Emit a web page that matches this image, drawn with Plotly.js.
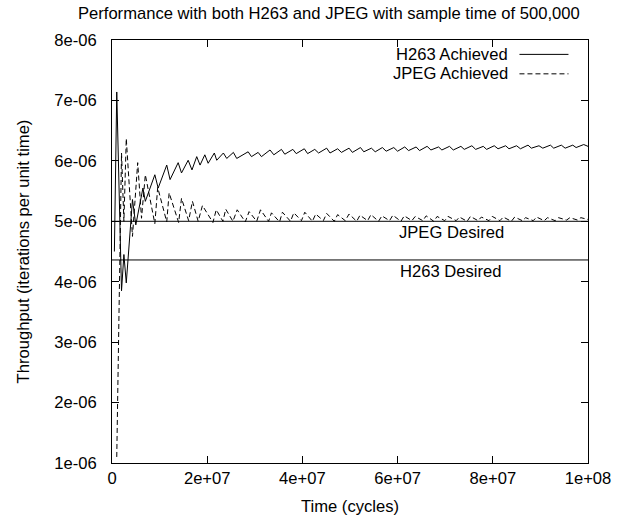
<!DOCTYPE html>
<html>
<head>
<meta charset="utf-8">
<script src="https://cdn.plot.ly/plotly-3.0.1.min.js"></script>
<style>html,body{margin:0;padding:0;background:#fff;}#chart{width:624px;height:517px;}</style>
</head>
<body>
<div id="chart"></div>
<script>
// ---- data ----
var h263X = [0.5e6, 1e6, 2e6, 2.5e6, 3e6, 3.8e6, 4.3e6, 5e6, 6.5e6, 7e6, 9e6, 9.7e6, 11.5e6, 12.2e6, 13.9e6, 14.6e6, 16e6, 16.8e6, 17.8e6, 18.5e6, 19.5e6, 20.2e6, 21.5e6, 22e6, 23.4e6, 24.1e6, 25.5e6, 26.2e6, 28.6e6, 29.3e6, 30.7e6, 31.4e6, 33.2e6, 34e6, 35.6e6, 36.3e6, 38e6, 38.7e6, 40.4e6, 41.1e6, 42.6e6, 43.4e6, 45.1e6, 45.8e6, 47.4e6, 48.2e6, 49.8e6, 50.5e6, 52.2e6, 52.9e6, 54.5e6, 55.3e6, 56.8e6, 57.6e6, 59.2e6, 60e6, 61.5e6, 62.3e6, 63.9e6, 64.6e6, 66.2e6, 67e6, 68.6e6, 69.3e6, 70.9e6, 71.7e6, 73.3e6, 74e6, 75.6e6, 76.4e6, 78e6, 78.7e6, 80.3e6, 81.1e6, 82.7e6, 83.4e6, 85e6, 85.8e6, 87.4e6, 88.1e6, 89.7e6, 90.5e6, 92.1e6, 92.8e6, 94.4e6, 95.2e6, 96.8e6, 97.5e6, 99.1e6, 100e6];
var h263Y = [4.5e-6, 7.14e-6, 3.85e-6, 4.45e-6, 3.98e-6, 4.85e-6, 5.36e-6, 4.94e-6, 5.55e-6, 5.33e-6, 5.77e-6, 5.55e-6, 5.93e-6, 5.69e-6, 5.97e-6, 5.80e-6, 6.01e-6, 5.85e-6, 6.07e-6, 5.93e-6, 6.10e-6, 5.96e-6, 6.13e-6, 6.01e-6, 6.13e-6, 6.04e-6, 6.14e-6, 6.04e-6, 6.15e-6, 6.07e-6, 6.14e-6, 6.07e-6, 6.18e-6, 6.10e-6, 6.19e-6, 6.11e-6, 6.19e-6, 6.12e-6, 6.20e-6, 6.12e-6, 6.19e-6, 6.13e-6, 6.21e-6, 6.13e-6, 6.20e-6, 6.14e-6, 6.21e-6, 6.14e-6, 6.22e-6, 6.15e-6, 6.21e-6, 6.15e-6, 6.22e-6, 6.16e-6, 6.22e-6, 6.16e-6, 6.23e-6, 6.17e-6, 6.23e-6, 6.17e-6, 6.24e-6, 6.18e-6, 6.23e-6, 6.18e-6, 6.24e-6, 6.18e-6, 6.24e-6, 6.19e-6, 6.25e-6, 6.19e-6, 6.24e-6, 6.19e-6, 6.25e-6, 6.20e-6, 6.25e-6, 6.20e-6, 6.25e-6, 6.20e-6, 6.26e-6, 6.21e-6, 6.25e-6, 6.21e-6, 6.26e-6, 6.21e-6, 6.26e-6, 6.21e-6, 6.26e-6, 6.22e-6, 6.27e-6, 6.24e-6];

var jpegX = [1e6, 2e6, 2.5e6, 3e6, 4.3e6, 5.4e6, 6.2e6, 7e6, 9e6, 9.6e6, 11.5e6, 12e6, 14e6, 14.6e6, 16.1e6, 16.9e6, 18.1e6, 19e6, 21.2e6, 21.9e6, 23.3e6, 23.9e6, 25.4e6, 26.3e6, 28e6, 28.8e6, 30.4e6, 31.2e6, 32.9e6, 33.5e6, 35.2e6, 35.8e6, 37.5e6, 38.2e6, 39.8e6, 40.5e6, 42.1e6, 42.8e6, 44.4e6, 45.1e6, 46.7e6, 47.4e6, 49e6, 49.8e6, 51.4e6, 52.1e6, 53.7e6, 54.4e6, 56e6, 56.7e6, 58.3e6, 59e6, 60.7e6, 61.4e6, 63e6, 63.7e6, 65.3e6, 66e6, 67.6e6, 68.3e6, 69.9e6, 70.6e6, 72.3e6, 73e6, 74.6e6, 75.3e6, 76.9e6, 77.6e6, 79.2e6, 79.9e6, 81.5e6, 82.2e6, 83.9e6, 84.6e6, 86.2e6, 86.9e6, 88.5e6, 89.2e6, 90.8e6, 91.5e6, 93.1e6, 93.8e6, 95.5e6, 96.2e6, 97.8e6, 98.5e6, 100e6];
var jpegY = [1.1e-6, 6.13e-6, 5.0e-6, 6.37e-6, 4.75e-6, 5.97e-6, 5.05e-6, 5.77e-6, 4.96e-6, 5.56e-6, 4.99e-6, 5.47e-6, 4.98e-6, 5.38e-6, 5.01e-6, 5.33e-6, 5.0e-6, 5.26e-6, 4.98e-6, 5.19e-6, 5.0e-6, 5.2e-6, 5.0e-6, 5.19e-6, 4.99e-6, 5.16e-6, 5.0e-6, 5.19e-6, 5.0e-6, 5.14e-6, 4.99e-6, 5.15e-6, 5.0e-6, 5.14e-6, 5.01e-6, 5.15e-6, 5.0e-6, 5.12e-6, 5.01e-6, 5.13e-6, 5.0e-6, 5.11e-6, 5.01e-6, 5.12e-6, 5.0e-6, 5.10e-6, 5.01e-6, 5.11e-6, 5.0e-6, 5.09e-6, 5.01e-6, 5.10e-6, 5.0e-6, 5.09e-6, 5.01e-6, 5.08e-6, 5.01e-6, 5.09e-6, 5.0e-6, 5.08e-6, 5.01e-6, 5.08e-6, 5.01e-6, 5.07e-6, 5.0e-6, 5.08e-6, 5.01e-6, 5.07e-6, 5.01e-6, 5.08e-6, 5.01e-6, 5.07e-6, 5.0e-6, 5.07e-6, 5.01e-6, 5.06e-6, 5.01e-6, 5.07e-6, 5.01e-6, 5.06e-6, 5.01e-6, 5.06e-6, 5.02e-6, 5.06e-6, 5.02e-6, 5.06e-6, 5.03e-6];

var desiredX = [0, 1e8];
var jpegDesired = [5.0e-6, 5.0e-6];
var h263Desired = [4.36e-6, 4.36e-6];

var xTickVals = [0, 2e7, 4e7, 6e7, 8e7, 1e8];
var xTickText = ["0", "2e+07", "4e+07", "6e+07", "8e+07", "1e+08"];
var yTickVals = [1e-6, 2e-6, 3e-6, 4e-6, 5e-6, 6e-6, 7e-6, 8e-6];
var yTickText = ["1e-06", "2e-06", "3e-06", "4e-06", "5e-06", "6e-06", "7e-06", "8e-06"];

var seriesNames = ["H263 Achieved", "JPEG Achieved"];
var desiredNames = ["JPEG Desired", "H263 Desired"];
var titleText = "Performance with both H263 and JPEG with sample time of 500,000";

// ---- drawing ----
var FONT = "Liberation Sans, Arial, Helvetica, sans-serif";
var FS = 16.6;
var traces = [
  {x: desiredX, y: jpegDesired, mode: "lines", line: {color: "#000", width: 1}, showlegend: false, hoverinfo: "skip"},
  {x: desiredX, y: h263Desired, mode: "lines", line: {color: "#000", width: 1}, showlegend: false, hoverinfo: "skip"},
  {x: h263X, y: h263Y, name: seriesNames[0], mode: "lines", line: {color: "#000", width: 1}, showlegend: false},
  {x: jpegX, y: jpegY, name: seriesNames[1], mode: "lines", line: {color: "#000", width: 1, dash: "5px,3px"}, showlegend: false}
];

var axisCommon = {
  showgrid: false, zeroline: false, showline: true, mirror: "ticks",
  linecolor: "#000", linewidth: 1, ticks: "inside", ticklen: 7, tickwidth: 1, tickcolor: "#000",
  tickfont: {family: FONT, size: FS, color: "#000"}
};

var layout = {
  width: 624, height: 517,
  margin: {l: 112, r: 35.5, t: 39.5, b: 54, pad: 0},
  paper_bgcolor: "#fff", plot_bgcolor: "#fff",
  font: {family: FONT, size: FS, color: "#000"},
  title: {text: titleText, font: {family: FONT, size: FS, color: "#000"}, x: 0.527, xanchor: "center", y: 0.975, yanchor: "middle"},
  xaxis: Object.assign({}, axisCommon, {
    range: [0, 1e8], tickvals: xTickVals, ticktext: xTickText,
    title: {text: "Time (cycles)", font: {family: FONT, size: FS, color: "#000"}, standoff: 13}
  }),
  yaxis: Object.assign({}, axisCommon, {
    range: [1e-6, 8e-6], tickvals: yTickVals, ticktext: yTickText, ticklabelstandoff: 11,
    title: {text: "Throughput (iterations per unit time)", font: {family: FONT, size: FS, color: "#000"}, standoff: 20}
  }),
  showlegend: false,
  annotations: [
    {xref: "paper", yref: "paper", x: 0.836, y: 0.966, xanchor: "right", yanchor: "middle", text: seriesNames[0], showarrow: false, font: {family: FONT, size: FS, color: "#000"}},
    {xref: "paper", yref: "paper", x: 0.836, y: 0.920, xanchor: "right", yanchor: "middle", text: seriesNames[1], showarrow: false, font: {family: FONT, size: FS, color: "#000"}},
    {xref: "x", yref: "y", x: 71.4e6, y: 4.81e-6, xanchor: "center", yanchor: "middle", text: desiredNames[0], showarrow: false, font: {family: FONT, size: FS, color: "#000"}},
    {xref: "x", yref: "y", x: 71.1e6, y: 4.17e-6, xanchor: "center", yanchor: "middle", text: desiredNames[1], showarrow: false, font: {family: FONT, size: FS, color: "#000"}}
  ],
  shapes: [
    {type: "line", xref: "paper", yref: "paper", x0: 0.856, x1: 0.959, y0: 0.966, y1: 0.966, line: {color: "#000", width: 1}},
    {type: "line", xref: "paper", yref: "paper", x0: 0.856, x1: 0.959, y0: 0.920, y1: 0.920, line: {color: "#000", width: 1, dash: "5px,3px"}}
  ]
};

Plotly.newPlot("chart", traces, layout, {staticPlot: true, displayModeBar: false});
</script>
</body>
</html>
